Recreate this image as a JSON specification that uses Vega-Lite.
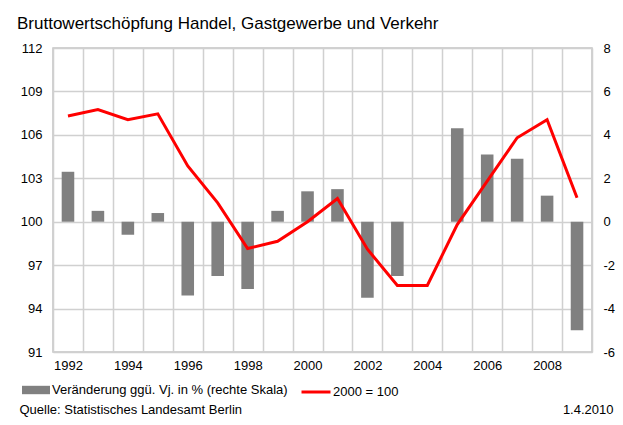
{
  "$schema": "https://vega.github.io/schema/vega-lite/v6.json",
  "width": 539,
  "height": 304,
  "autosize": {"type": "none"},
  "padding": {"left": 53, "top": 48, "right": 31, "bottom": 73},
  "background": "white",
  "title": {
    "text": "Bruttowertschöpfung Handel, Gastgewerbe und Verkehr",
    "anchor": "start",
    "frame": "group",
    "dx": -36,
    "dy": 11,
    "fontSize": 17,
    "fontWeight": "normal",
    "font": "Liberation Sans",
    "color": "black",
    "baseline": "alphabetic",
    "offset": 7
  },
  "data": {
    "values": [
      {"year": 1992, "chg": 2.3, "idx": 107.3},
      {"year": 1993, "chg": 0.5, "idx": 107.75},
      {"year": 1994, "chg": -0.6, "idx": 107.05},
      {"year": 1995, "chg": 0.4, "idx": 107.45},
      {"year": 1996, "chg": -3.4, "idx": 103.85},
      {"year": 1997, "chg": -2.5, "idx": 101.3},
      {"year": 1998, "chg": -3.1, "idx": 98.15},
      {"year": 1999, "chg": 0.5, "idx": 98.65},
      {"year": 2000, "chg": 1.4, "idx": 100.0},
      {"year": 2001, "chg": 1.5, "idx": 101.6},
      {"year": 2002, "chg": -3.5, "idx": 98.1},
      {"year": 2003, "chg": -2.5, "idx": 95.6},
      {"year": 2004, "chg": 0.0, "idx": 95.6},
      {"year": 2005, "chg": 4.3, "idx": 99.8},
      {"year": 2006, "chg": 3.1, "idx": 102.8},
      {"year": 2007, "chg": 2.9, "idx": 105.8},
      {"year": 2008, "chg": 1.2, "idx": 107.05},
      {"year": 2009, "chg": -5.0, "idx": 101.65}
    ]
  },
  "layer": [
    {
      "mark": {"type": "bar", "width": {"band": 0.42}, "color": "#808080"},
      "encoding": {
        "x": {
          "field": "year",
          "type": "ordinal",
          "scale": {"paddingInner": 0, "paddingOuter": 0},
          "axis": {
            "title": null,
            "tickBand": "extent",
            "grid": true,
            "labelAngle": 0,
            "labelPadding": 7,
            "labelExpr": "datum.value % 2 == 0 ? datum.label : ''"
          }
        },
        "y": {
          "field": "chg",
          "type": "quantitative",
          "scale": {"domain": [-6, 8], "nice": false, "zero": false},
          "axis": {
            "orient": "right",
            "values": [-6, -4, -2, 0, 2, 4, 6, 8],
            "labelExpr": "datum.value < 0 ? '-' + abs(datum.value) : '' + datum.value",
            "grid": false,
            "labelPadding": 11,
            "labelAlign": "left",
            "title": "1.4.2010",
            "titleAngle": 0,
            "titleAlign": "right",
            "titleBaseline": "middle",
            "titleX": 21,
            "titleY": 361
          }
        },
        "fill": {
          "datum": "Veränderung ggü. Vj. in % (rechte Skala)",
          "type": "nominal",
          "scale": {"range": ["#808080"]},
          "legend": {
            "orient": "none",
            "legendX": -31,
            "legendY": 328,
            "title": null,
            "symbolType": "M-1,-0.3H1V0.3H-1Z",
            "symbolSize": 784,
            "symbolStrokeWidth": 0,
            "labelOffset": 2,
            "labelLimit": 0,
            "padding": 0
          }
        }
      }
    },
    {
      "mark": {"type": "line", "strokeWidth": 3, "color": "#ff0000"},
      "encoding": {
        "x": {"field": "year", "type": "ordinal"},
        "y": {
          "field": "idx",
          "type": "quantitative",
          "scale": {"domain": [91, 112], "nice": false, "zero": false},
          "axis": {
            "orient": "left",
            "values": [91, 94, 97, 100, 103, 106, 109, 112],
            "grid": true,
            "labelPadding": 11,
            "title": "Quelle: Statistisches Landesamt Berlin",
            "titleAngle": 0,
            "titleAlign": "left",
            "titleBaseline": "middle",
            "titleX": -34,
            "titleY": 361
          }
        },
        "stroke": {
          "datum": "2000 = 100",
          "type": "nominal",
          "scale": {"range": ["#ff0000"]},
          "legend": {
            "orient": "none",
            "legendX": 247,
            "legendY": 328,
            "title": null,
            "symbolType": "stroke",
            "symbolSize": 841,
            "symbolStrokeWidth": 3,
            "symbolStrokeColor": "#ff0000",
            "labelOffset": 1,
            "labelLimit": 0,
            "padding": 0
          }
        }
      }
    }
  ],
  "resolve": {"scale": {"y": "independent"}},
  "config": {
    "font": "Liberation Sans",
    "view": {"stroke": "#c4c4c4", "strokeWidth": 1.5},
    "axis": {
      "domain": false,
      "ticks": false,
      "labelFont": "Liberation Sans",
      "labelFontSize": 13,
      "labelColor": "black",
      "titleFont": "Liberation Sans",
      "titleFontSize": 13,
      "titleFontWeight": "normal",
      "titleColor": "black",
      "gridColor": "#d0d0d0",
      "gridWidth": 1.5,
      "gridOpacity": 1
    },
    "legend": {
      "labelFont": "Liberation Sans",
      "labelFontSize": 13,
      "labelColor": "black"
    }
  }
}
